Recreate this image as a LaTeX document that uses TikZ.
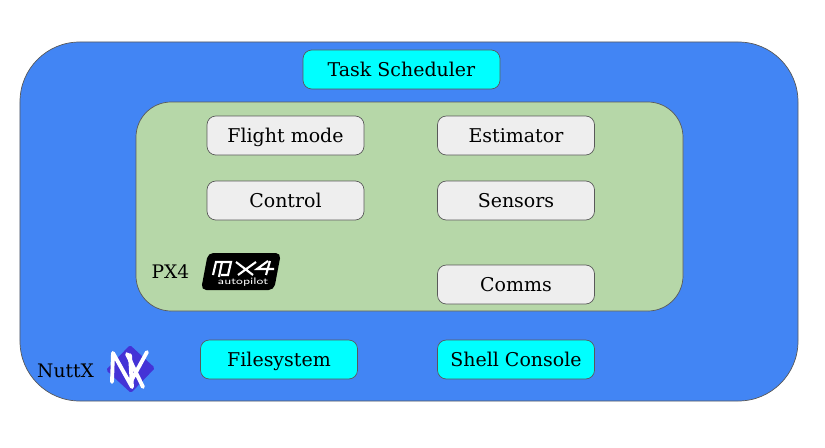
\documentclass[tikz,border=0pt]{standalone}
\usepackage{fontspec}
\setmainfont{DejaVu Serif}
\definecolor{rtosblue}{HTML}{4285F4}
\definecolor{px4green}{HTML}{B6D7A8}
\definecolor{boxgray}{HTML}{EEEEEE}
\definecolor{edgegray}{HTML}{595959}
\definecolor{nuttxblue}{HTML}{4433D6}
\definecolor{rtoscyan}{HTML}{00FFFF}
\tikzset{
  modulebox/.style={draw=edgegray, fill=boxgray, rounded corners=5pt, minimum width=3.14cm, minimum height=0.78cm, inner sep=0pt, text height=3.6mm, text depth=0.8mm, font=\fontsize{10.8}{12}\selectfont},
  rtosbox/.style={modulebox, fill=rtoscyan},
  tag/.style={inner sep=0pt, font=\fontsize{10.6}{12}\selectfont}
}
\begin{document}
\begin{tikzpicture}
\useasboundingbox (0, 0) rectangle (16.5, 8.94);

% Draw the two layers
\draw[draw=edgegray, fill=rtosblue, rounded corners=34pt] (0.4, 0.92) rectangle (15.96, 8.10);
\draw[draw=edgegray, fill=px4green, rounded corners=20pt] (2.72, 2.72) rectangle (13.66, 6.90);

% Insert the modules
\node[rtosbox, minimum width=3.94cm] (scheduler) at (8.03, 7.55) {Task Scheduler};
\node[modulebox] (flightmode) at (5.71, 6.23) {Flight mode};
\node[modulebox] (estimator) at (10.32, 6.23) {Estimator};
\node[modulebox] (control) at (5.71, 4.93) {Control};
\node[modulebox] (sensors) at (10.32, 4.93) {Sensors};
\node[modulebox] (comms) at (10.32, 3.25) {Comms};
\node[rtosbox] (filesystem) at (5.58, 1.75) {Filesystem};
\node[rtosbox] (console) at (10.32, 1.75) {Shell Console};

% PX4 logo
\node[tag] (px4) at (3.41, 3.50) {PX4};
\fill[black, rounded corners=3pt] (4.16, 3.88) -- (5.62, 3.88) -- (5.48, 3.14) -- (4.02, 3.14) -- cycle;
\draw[white, line width=1.2pt] (4.26, 3.44) -- (4.32, 3.70) -- (4.62, 3.70) -- (4.56, 3.44) -- (4.42, 3.44);
\draw[white, line width=1.2pt] (4.44, 3.70) -- (4.38, 3.40);
\draw[white, line width=1.2pt] (4.72, 3.70) -- (5.06, 3.44) (5.12, 3.70) -- (4.76, 3.44);
\draw[white, line width=1.2pt] (5.36, 3.72) -- (5.14, 3.56) -- (5.48, 3.56) (5.40, 3.72) -- (5.32, 3.44);
\node[white, inner sep=0pt, xscale=1.35, font=\sffamily\fontsize{5.4}{6}\selectfont] (autopilot) at (4.86, 3.30) {autopilot};

% NuttX logo
\node[tag] (nuttx) at (1.31, 1.52) {NuttX};
\fill[nuttxblue, rounded corners=1pt] (2.60, 2.04) -- (3.10, 1.58) -- (2.62, 1.08) -- (2.12, 1.54) -- cycle;
\draw[white, line width=2.2pt, line join=round, line cap=round] (2.24, 1.30) -- (2.26, 1.88) -- (2.64, 1.20) -- (2.60, 1.84);
\draw[white, line width=2.2pt, line cap=round] (2.54, 1.86) -- (2.86, 1.20) (2.94, 1.90) -- (2.60, 1.28);
\end{tikzpicture}
\end{document}
